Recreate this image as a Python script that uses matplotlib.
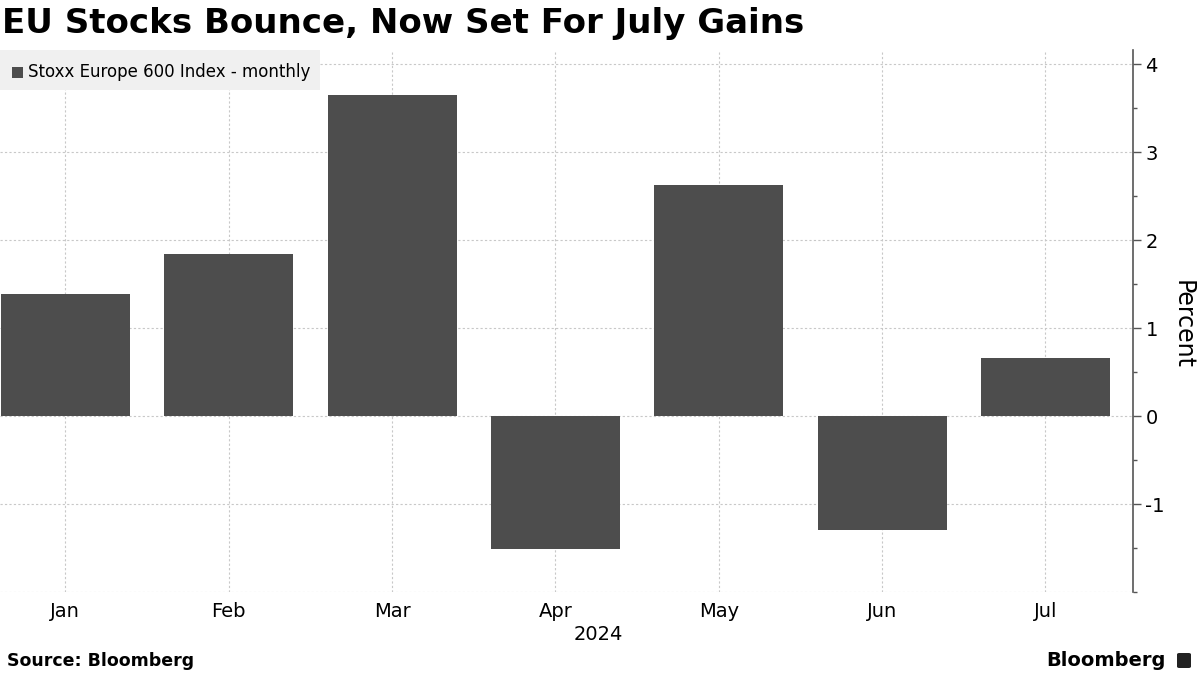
import matplotlib
matplotlib.use("Agg")
import matplotlib.pyplot as plt
from matplotlib.patches import Rectangle, FancyBboxPatch
from matplotlib.ticker import MultipleLocator

plt.rcParams["axes.unicode_minus"] = False

# data
months = ["Jan", "Feb", "Mar", "Apr", "May", "Jun", "Jul"]
changes = [1.39, 1.84, 3.65, -1.51, 2.63, -1.30, 0.66]
series_name = "Stoxx Europe 600 Index - monthly"
year_label = "2024"

bar_color = "#4d4d4d"
grid_color = "#c8c8c8"

fig = plt.figure(figsize=(12, 6.75), dpi=100)
ax = fig.add_axes([0.0, 1 - 592 / 675, 1133 / 1200, (592 - 50) / 675])

x = list(range(len(months)))
ax.bar(x, changes, width=0.79, color=bar_color, zorder=3)

ax.set_xlim(-0.40, 6.536)
ax.set_ylim(-2, 4.16)

# right y axis
ax.yaxis.tick_right()
ax.set_yticks([-1, 0, 1, 2, 3, 4])
ax.yaxis.set_minor_locator(MultipleLocator(0.5))
ax.tick_params(axis="y", which="major", length=6, width=1, color="#555555",
               labelsize=14, pad=3)
ax.tick_params(axis="y", which="minor", length=3, width=1, color="#555555")

ax.set_xticks(x)
ax.set_xticklabels(months)
ax.tick_params(axis="x", length=0, labelsize=14, pad=7)

for s in ["top", "left", "bottom"]:
    ax.spines[s].set_visible(False)
ax.spines["right"].set_color("#555555")
ax.spines["right"].set_linewidth(1.2)

# dotted grid
for yv in [-2, -1, 0, 1, 2, 3, 4]:
    ax.axhline(yv, color=grid_color, lw=0.8, ls=(0, (2, 2)), zorder=1)
for xv in x:
    ax.axvline(xv, color=grid_color, lw=0.8, ls=(0, (2, 2)), zorder=1)

fig.text(1183 / 1200, 1 - 325 / 675, "Percent", fontsize=17, rotation=270,
         ha="center", va="center")

# year label
fig.text(598 / 1200, 1 - 634 / 675, year_label, fontsize=14,
         ha="center", va="center")

# legend box
fig.patches.append(Rectangle((0, 1 - 90 / 675), 320 / 1200, 40 / 675,
                             transform=fig.transFigure, facecolor="#f0f0f0",
                             edgecolor="none", zorder=5))
fig.patches.append(Rectangle((12 / 1200, 1 - 78 / 675), 11 / 1200, 11 / 675,
                             transform=fig.transFigure, facecolor=bar_color,
                             edgecolor="none", zorder=6))
fig.text(28 / 1200, 1 - 72 / 675, series_name, fontsize=12, va="center",
         ha="left", zorder=7)

# title and footer
fig.text(0.002, 1 - 24 / 675, "EU Stocks Bounce, Now Set For July Gains",
         fontsize=24.5, fontweight="bold", va="center", ha="left")
fig.text(0.006, 1 - 661 / 675, "Source: Bloomberg", fontsize=12.5,
         fontweight="bold", va="center", ha="left")
fig.text(1166 / 1200, 1 - 660 / 675, "Bloomberg", fontsize=14,
         fontweight="bold", va="center", ha="right")
fig.patches.append(FancyBboxPatch((1177 / 1200, 1 - 668 / 675), 14 / 1200, 15 / 675,
                                  boxstyle="round,pad=0,rounding_size=0.002",
                                  transform=fig.transFigure, facecolor="#222222",
                                  edgecolor="none"))

fig.savefig("out.png", dpi=100)
